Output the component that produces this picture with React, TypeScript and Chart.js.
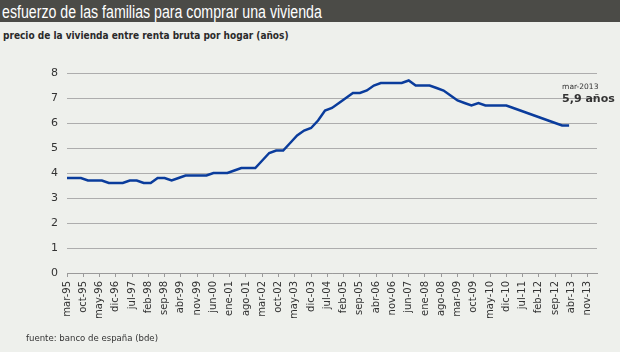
import React, { useEffect, useRef } from "react";
import { Chart, registerables } from "chart.js";

Chart.register(...registerables);

const chartTitle = "esfuerzo de las familias para comprar una vivienda";
const chartSubtitle = "precio de la vivienda entre renta bruta por hogar (años)";
const sourceText = "fuente: banco de españa (bde)";
const annotationDate = "mar-2013";
const annotationValue = "5,9 años";

// x axis: months counted from mar-95; one tick label every 7 months
const monthsPerTick = 7;
const axisMonths = 228; // mar-95 .. mar-14
const xTickLabels = [
  "mar-95", "oct-95", "may-96", "dic-96", "jul-97", "feb-98", "sep-98", "abr-99",
  "nov-99", "jun-00", "ene-01", "ago-01", "mar-02", "oct-02", "may-03", "dic-03",
  "jul-04", "feb-05", "sep-05", "abr-06", "nov-06", "jun-07", "ene-08", "ago-08",
  "mar-09", "oct-09", "may-10", "dic-10", "jul-11", "feb-12", "sep-12", "abr-13",
  "nov-13",
];

// quarterly observations, mar-95 .. mar-13 (3 months apart)
const monthsPerObservation = 3;
const values = [
  3.8, 3.8, 3.8, 3.7, 3.7, 3.7, 3.6, 3.6, 3.6, 3.7,
  3.7, 3.6, 3.6, 3.8, 3.8, 3.7, 3.8, 3.9, 3.9, 3.9,
  3.9, 4.0, 4.0, 4.0, 4.1, 4.2, 4.2, 4.2, 4.5, 4.8,
  4.9, 4.9, 5.2, 5.5, 5.7, 5.8, 6.1, 6.5, 6.6, 6.8,
  7.0, 7.2, 7.2, 7.3, 7.5, 7.6, 7.6, 7.6, 7.6, 7.7,
  7.5, 7.5, 7.5, 7.4, 7.3, 7.1, 6.9, 6.8, 6.7, 6.8,
  6.7, 6.7, 6.7, 6.7, 6.6, 6.5, 6.4, 6.3, 6.2, 6.1,
  6.0, 5.9, 5.9,
];

const yMin = 0;
const yMax = 8;

const annotationPlugin = {
  id: "lastValueLabel",
  afterDatasetsDraw(chart: any) {
    const meta = chart.getDatasetMeta(0);
    const pt = meta.data[meta.data.length - 1];
    if (!pt) return;
    const ctx = chart.ctx;
    ctx.save();
    ctx.fillStyle = "#333333";
    ctx.textAlign = "left";
    ctx.textBaseline = "alphabetic";
    ctx.font = "7.5px 'DejaVu Sans'";
    ctx.fillText(annotationDate, pt.x - 7, pt.y - 37);
    ctx.font = "bold 11px 'DejaVu Sans'";
    ctx.fillText(annotationValue, pt.x - 7, pt.y - 24);
    ctx.restore();
  },
};

function LineChart() {
  const ref = useRef<HTMLCanvasElement | null>(null);
  useEffect(() => {
    if (!ref.current) return;
    const chart = new Chart(ref.current, {
      type: "line",
      data: {
        datasets: [
          {
            data: values.map((v, i) => ({ x: i * monthsPerObservation, y: v })),
            borderColor: "#0a3c9c",
            borderWidth: 2.5,
            pointRadius: 0,
            tension: 0,
            fill: false,
          },
        ],
      },
      options: {
        animation: false,
        responsive: false,
        maintainAspectRatio: false,
        layout: { padding: { top: 73, right: 23, bottom: 29, left: 0 } },
        plugins: {
          legend: { display: false },
          tooltip: { enabled: false },
        },
        scales: {
          x: {
            type: "linear",
            min: 0,
            max: axisMonths,
            afterFit: (s: any) => {
              s.height = 50;
            },
            ticks: {
              stepSize: monthsPerTick,
              includeBounds: false,
              autoSkip: false,
              minRotation: 90,
              maxRotation: 90,
              padding: 4,
              color: "#333333",
              font: { family: "'DejaVu Sans'", size: 10 },
              callback: (v: any) => {
                const idx = Math.round(Number(v) / monthsPerTick);
                return xTickLabels[idx] ?? "";
              },
            },
            grid: {
              drawOnChartArea: false,
              drawTicks: true,
              tickLength: 4,
              color: "#9a9a9a",
            },
            border: { display: true, color: "#9a9a9a" },
          },
          y: {
            min: yMin,
            max: yMax,
            afterFit: (s: any) => {
              s.width = 67;
            },
            ticks: {
              stepSize: 1,
              padding: 9,
              color: "#333333",
              font: { family: "'DejaVu Sans'", size: 11 },
            },
            grid: { color: "#adadad", drawTicks: false },
            border: { display: false },
          },
        },
      },
      plugins: [annotationPlugin],
    });
    return () => chart.destroy();
  }, []);
  return (
    <canvas
      ref={ref}
      width={620}
      height={352}
      style={{ position: "absolute", left: 0, top: 0, width: 620, height: 352 }}
    />
  );
}

export default function App() {
  return (
    <div
      style={{
        position: "absolute",
        left: 0,
        top: 0,
        width: 620,
        height: 352,
        background: "#eef0ec",
        overflow: "hidden",
      }}
    >
      <div
        style={{
          position: "absolute",
          left: 0,
          top: 0,
          width: 620,
          height: 22,
          background: "#4b4b47",
        }}
      />
      <div
        style={{
          position: "absolute",
          left: 2,
          top: 1,
          lineHeight: "22px",
          fontFamily: "'Liberation Sans', sans-serif",
          fontSize: 17.5,
          color: "#ffffff",
          whiteSpace: "nowrap",
          transform: "scaleX(0.81)",
          transformOrigin: "0 0",
        }}
      >
        {chartTitle}
      </div>
      <div
        style={{
          position: "absolute",
          left: 3,
          top: 29,
          lineHeight: "13px",
          fontFamily: "'DejaVu Sans Condensed', 'Liberation Sans', sans-serif",
          fontWeight: "bold",
          fontSize: 10,
          color: "#2a2a2a",
          whiteSpace: "nowrap",
        }}
      >
        {chartSubtitle}
      </div>
      <LineChart />
      <div
        style={{
          position: "absolute",
          left: 26,
          top: 332,
          lineHeight: "11px",
          fontFamily: "'DejaVu Sans Condensed', 'Liberation Sans', sans-serif",
          fontSize: 9.5,
          color: "#333333",
          whiteSpace: "nowrap",
        }}
      >
        {sourceText}
      </div>
    </div>
  );
}
